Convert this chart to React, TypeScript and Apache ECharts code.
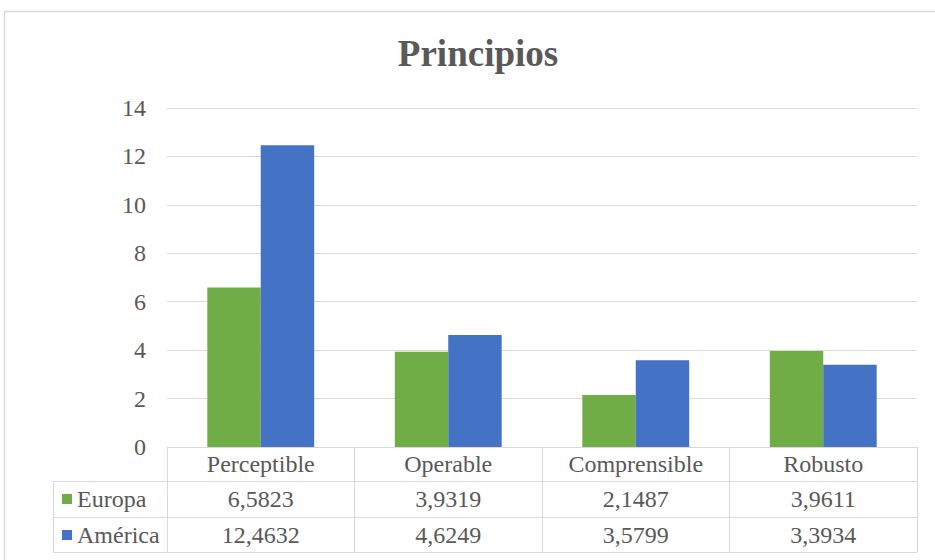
import React, { useEffect, useRef } from "react";
import * as echarts from "echarts";

const categories = ["Perceptible", "Operable", "Comprensible", "Robusto"];
const europa = [6.5823, 3.9319, 2.1487, 3.9611];
const america = [12.4632, 4.6249, 3.5799, 3.3934];
const seriesNames = ["Europa", "América"];
const colors = ["#70AD47", "#4472C4"];

const fmt = (v: number) => v.toFixed(4).replace(".", ",");
const FONT = "Liberation Serif";
const GRAY = "#595959";
const LINE = "#d9d9d9";
const FS = 24;

export default function App() {
  const ref = useRef<HTMLDivElement>(null);
  useEffect(() => {
    document.body.style.margin = "0";
    const chart = echarts.init(ref.current!, null, { renderer: "svg" });
    const tableAxis = (data: string[], offset: number) => ({
      type: "category",
      data,
      position: "bottom",
      offset,
      gridIndex: 0,
      axisLine: { show: false },
      axisTick: { show: false },
      splitLine: { show: false },
      axisLabel: { color: GRAY, fontSize: FS, fontFamily: FONT, margin: 5, interval: 0 },
    });
    chart.setOption({
      animation: false,
      backgroundColor: "#fff",
      textStyle: { fontFamily: FONT },
      title: {
        text: "Principios",
        left: 473,
        top: 30,
        textAlign: "center",
        textStyle: { color: GRAY, fontSize: 37, fontWeight: "bold", fontFamily: FONT },
      },
      legend: {
        orient: "vertical",
        left: 57,
        top: 482,
        itemGap: 12,
        itemWidth: 10,
        itemHeight: 10,
        icon: "rect",
        data: seriesNames,
        textStyle: { color: GRAY, fontSize: FS, fontFamily: FONT },
      },
      grid: { left: 167, right: 18, top: 108, bottom: 113 },
      xAxis: [
        {
          type: "category",
          data: categories,
          axisLine: { show: true, lineStyle: { color: LINE, width: 1 } },
          axisTick: { show: true, length: 105, lineStyle: { color: LINE, width: 1 } },
          axisLabel: { color: GRAY, fontSize: FS, fontFamily: FONT, margin: 5, interval: 0 },
        },
        tableAxis(europa.map(fmt), 35),
        tableAxis(america.map(fmt), 71),
      ],
      yAxis: {
        type: "value",
        min: 0,
        max: 14,
        interval: 2,
        axisLine: { show: false },
        axisTick: { show: false },
        splitLine: { lineStyle: { color: LINE, width: 1 } },
        axisLabel: { color: GRAY, fontSize: FS, fontFamily: FONT, margin: 21 },
      },
      series: [
        {
          name: seriesNames[0],
          type: "bar",
          data: europa,
          itemStyle: { color: colors[0] },
          barCategoryGap: "43%",
          barGap: "0%",
        },
        {
          name: seriesNames[1],
          type: "bar",
          data: america,
          itemStyle: { color: colors[1] },
          barCategoryGap: "43%",
          barGap: "0%",
        },
      ],
      graphic: [
        {
          type: "rect",
          shape: { x: 4.5, y: 11.5, width: 1000, height: 700 },
          style: { fill: "none", stroke: LINE, lineWidth: 1.5 },
          silent: true,
        },
        { type: "line", shape: { x1: 53, y1: 481.5, x2: 917, y2: 481.5 }, style: { stroke: LINE, lineWidth: 1 } },
        { type: "line", shape: { x1: 53, y1: 517.5, x2: 917, y2: 517.5 }, style: { stroke: LINE, lineWidth: 1 } },
        { type: "line", shape: { x1: 53, y1: 552.5, x2: 917, y2: 552.5 }, style: { stroke: LINE, lineWidth: 1 } },
        { type: "line", shape: { x1: 53.5, y1: 481, x2: 53.5, y2: 553 }, style: { stroke: LINE, lineWidth: 1 } },
      ],
    });
    return () => chart.dispose();
  }, []);
  return <div ref={ref} style={{ width: 935, height: 560 }} />;
}
